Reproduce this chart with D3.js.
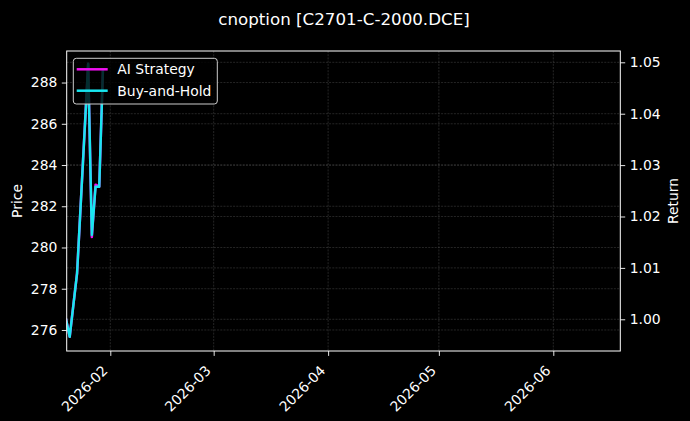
<!DOCTYPE html>
<html>
<head>
<meta charset="utf-8">
<script src="https://cdn.jsdelivr.net/npm/d3@7"></script>
<style>
  html, body { margin: 0; padding: 0; background: #000; }
  svg { display: block; }
  text { font-family: "DejaVu Sans", sans-serif; fill: #fff; }
</style>
</head>
<body>
<svg id="chart" width="690" height="421"></svg>
<script>
// ---- data ----
const dates = ["2026-01-20","2026-01-21","2026-01-22","2026-01-23","2026-01-26","2026-01-27","2026-01-28","2026-01-29","2026-01-30"];
const aiStrategy = [1.0000, 0.9966, 1.0028, 1.0090, 1.0497, 1.0160, 1.0262, 1.0258, 1.0486];
const buyAndHold = [1.0000, 0.9966, 1.0028, 1.0090, 1.0497, 1.0164, 1.0258, 1.0258, 1.0486];
const xTickLabels = ["2026-02","2026-03","2026-04","2026-05","2026-06"];
const priceTicks = [276, 278, 280, 282, 284, 286, 288];
const returnTicks = [1.00, 1.01, 1.02, 1.03, 1.04, 1.05];
const seriesNames = ["AI Strategy", "Buy-and-Hold"];
const seriesColors = ["#f010f0", "#18e6f0"];
const titleText = "cnoption [C2701-C-2000.DCE]";

// ---- layout ----
const W = 690, H = 421;
const L = 66.7, R = 620.3, T = 51, B = 351;
const parseDay = d3.timeParse("%Y-%m-%d");
const parseMonth = d3.timeParse("%Y-%m");

const svg = d3.select("#chart");
svg.append("rect").attr("width", W).attr("height", H).attr("fill", "#000");

const x = d3.scaleTime()
  .domain([new Date(2026, 0, 20, 4, 30), new Date(2026, 5, 19, 3, 30)])
  .range([L, R]);
const yPrice = d3.scaleLinear().domain([274.98, 289.53]).range([B, T]);
const yRet = d3.scaleLinear().domain([0.99383, 1.0522]).range([B, T]);

svg.append("defs").append("clipPath").attr("id", "plotclip")
  .append("rect").attr("x", L).attr("y", T).attr("width", R - L).attr("height", B - T);

// ---- grid ----
const grid = svg.append("g")
  .attr("stroke", "#8a8a8a").attr("stroke-opacity", 0.45)
  .attr("stroke-width", 0.6).attr("stroke-dasharray", "2,1.2");
const xTicks = xTickLabels.map(parseMonth);
grid.selectAll(".gx").data(xTicks).join("line")
  .attr("x1", d => x(d)).attr("x2", d => x(d)).attr("y1", T).attr("y2", B);
grid.selectAll(".gp").data(priceTicks).join("line")
  .attr("x1", L).attr("x2", R).attr("y1", d => yPrice(d)).attr("y2", d => yPrice(d));
grid.selectAll(".gr").data(returnTicks).join("line")
  .attr("x1", L).attr("x2", R).attr("y1", d => yRet(d)).attr("y2", d => yRet(d));

// ---- lines ----
const allSeries = [aiStrategy, buyAndHold];
const line = d3.line().x((d, i) => x(parseDay(dates[i]))).y(d => yRet(d));
const plot = svg.append("g").attr("clip-path", "url(#plotclip)");
allSeries.forEach((s, k) => {
  plot.append("path").datum(s)
    .attr("fill", "none")
    .attr("stroke", seriesColors[k])
    .attr("stroke-width", 2.5)
    .attr("stroke-linejoin", "round")
    .attr("stroke-linecap", "square")
    .attr("d", line);
});

// ---- axes ----
function styleAxis(g) {
  g.select(".domain").remove();
  g.selectAll(".tick line").attr("stroke", "#fff").attr("stroke-width", 0.9);
  g.selectAll(".tick text").attr("fill", "#fff").style("font-size", "13.9px")
    .style("font-family", "DejaVu Sans, sans-serif");
}
const gx = svg.append("g").attr("transform", `translate(0,${B})`)
  .call(d3.axisBottom(x).tickValues(xTicks).tickFormat(d3.timeFormat("%Y-%m")).tickSize(4.9).tickPadding(3.5));
styleAxis(gx);
gx.selectAll(".tick text")
  .attr("text-anchor", "end")
  .attr("dy", null)
  .attr("y", 0)
  .attr("transform", "translate(-2.3,20.5) rotate(-45)");

const gl = svg.append("g").attr("transform", `translate(${L},0)`)
  .call(d3.axisLeft(yPrice).tickValues(priceTicks).tickFormat(d3.format("d")).tickSize(4.9).tickPadding(4.5));
styleAxis(gl);

const gr = svg.append("g").attr("transform", `translate(${R},0)`)
  .call(d3.axisRight(yRet).tickValues(returnTicks).tickFormat(d3.format(".2f")).tickSize(4.9).tickPadding(4.5));
styleAxis(gr);

// spines
svg.append("rect").attr("x", L).attr("y", T).attr("width", R - L).attr("height", B - T)
  .attr("fill", "none").attr("stroke", "#fff").attr("stroke-width", 1);

// ---- labels ----
svg.append("text").attr("x", 344).attr("y", 25).attr("text-anchor", "middle")
  .style("font-size", "16.7px").text(titleText);
svg.append("text").attr("transform", "translate(21.8,201) rotate(-90)")
  .attr("text-anchor", "middle").style("font-size", "13.9px").text("Price");
svg.append("text").attr("transform", "translate(677.5,201) rotate(-90)")
  .attr("text-anchor", "middle").style("font-size", "13.9px").text("Return");

// ---- legend ----
const lg = svg.append("g");
lg.append("rect").attr("x", 73.3).attr("y", 58.3).attr("width", 144).attr("height", 45.7)
  .attr("rx", 3).attr("fill", "#000").attr("fill-opacity", 0.8)
  .attr("stroke", "#cccccc").attr("stroke-width", 1);
seriesNames.forEach((name, k) => {
  const yy = 69.3 + k * 21.4;
  lg.append("line").attr("x1", 76.7).attr("x2", 107.7).attr("y1", yy).attr("y2", yy)
    .attr("stroke", seriesColors[k]).attr("stroke-width", 2.5);
  lg.append("text").attr("x", 117.3).attr("y", yy + 5).style("font-size", "13.9px").text(name);
});
</script>
</body>
</html>
